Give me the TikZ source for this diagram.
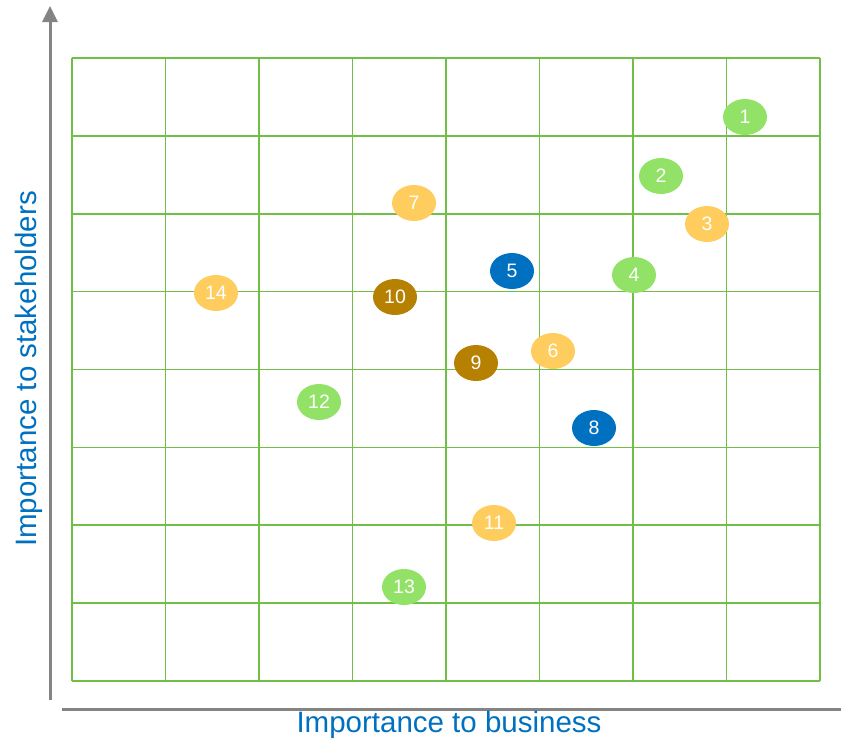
\documentclass[tikz,border=0pt]{standalone}
\usepackage{fontspec}
\setmainfont{Liberation Sans}
\usetikzlibrary{shapes.geometric,arrows.meta}
\definecolor{gridgreen}{RGB}{112,192,72}
\definecolor{pgreen}{RGB}{146,226,104}
\definecolor{pyellow}{RGB}{255,204,94}
\definecolor{pblue}{RGB}{0,112,192}
\definecolor{pbrown}{RGB}{182,128,0}
\definecolor{axisgray}{RGB}{132,132,132}
\tikzset{
  bubble/.style={ellipse, minimum width=44pt, minimum height=36pt, inner sep=0pt, text=white, font=\fontsize{19.5}{19.5}\selectfont},
  gb/.style={bubble, fill=pgreen},
  yb/.style={bubble, fill=pyellow},
  bb/.style={bubble, fill=pblue},
  nb/.style={bubble, fill=pbrown},
  axislabel/.style={text=pblue, font=\fontsize{29.5}{29.5}\selectfont, inner sep=0pt},
  axisline/.style={draw=axisgray, line width=3pt}
}
\begin{document}
\begin{tikzpicture}[x=1pt,y=-1pt]
\useasboundingbox (0,0) rectangle (841,740);
% grid
\foreach \i in {0,...,8} {
  \draw[gridgreen, line width=1.6pt] ({72+93.5*\i},58) -- ({72+93.5*\i},681);
  \draw[gridgreen, line width=1.6pt] (72,{58+77.875*\i}) -- (820,{58+77.875*\i});
}
% axes
\coordinate (vbot) at (50,700);
\coordinate (vtop) at (50,6);
\coordinate (hleft) at (62,709);
\coordinate (hright) at (841,709);
\draw[axisline, -{Triangle[length=16pt,width=15pt]}] (vbot) -- (vtop);
\draw[axisline] (hleft) -- (hright);
\node[axislabel, rotate=90] (ylab) at (29,369) {Importance to stakeholders};
\node[axislabel] (xlab) at (449,725) {Importance to business};
% bubbles
\node[gb] (n1) at (745,117) {1};
\node[gb] (n2) at (661,176) {2};
\node[yb] (n3) at (707,224) {3};
\node[gb] (n4) at (634,275) {4};
\node[bb] (n5) at (512,271) {5};
\node[yb] (n6) at (553,351) {6};
\node[yb] (n7) at (414,203) {7};
\node[bb] (n8) at (594,428) {8};
\node[nb] (n9) at (476,363) {9};
\node[nb] (n10) at (395,297) {10};
\node[yb] (n11) at (494,523) {11};
\node[gb] (n12) at (319,402) {12};
\node[gb] (n13) at (404,587) {13};
\node[yb] (n14) at (216,293) {14};
\end{tikzpicture}
\end{document}
